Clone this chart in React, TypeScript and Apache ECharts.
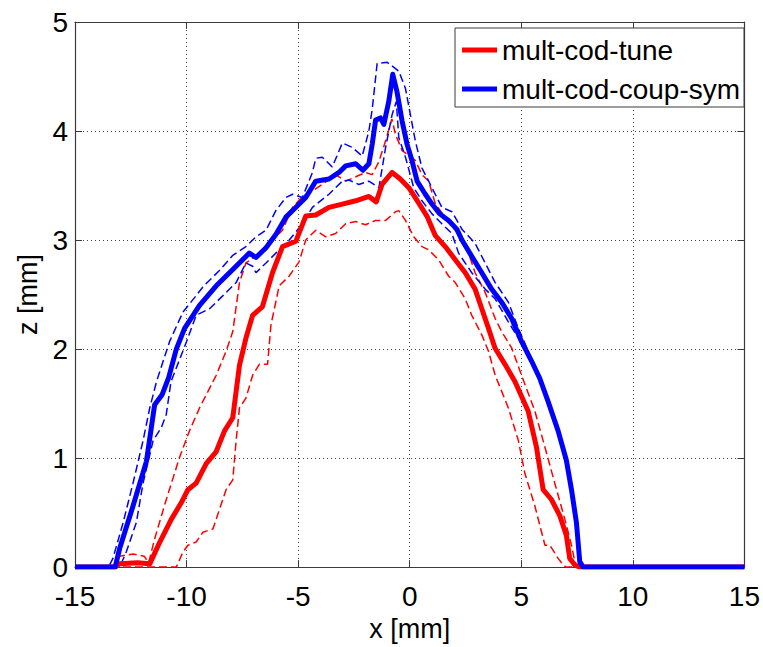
import React, { useEffect, useRef } from "react";
import * as echarts from "echarts";

const xMin = -15;
const xMax = 15;
const xStep = 5;
const zMin = 0;
const zMax = 5;
const zStep = 1;

const legendNames = ["mult-cod-tune", "mult-cod-coup-sym"];

// mult-cod-tune: mean (solid) and upper/lower envelopes (dashed)
const tuneMean: number[][] = [
  [-15, 0], [-13.2, 0], [-13.0, 0.03], [-12.2, 0.04], [-11.65, 0.03], [-11.2, 0.23], [-10.68, 0.44],
  [-10.24, 0.59], [-9.94, 0.71], [-9.57, 0.77], [-9.12, 0.95], [-8.67, 1.06], [-8.3, 1.25], [-7.93, 1.37],
  [-7.63, 1.85], [-7.34, 2.1], [-7.04, 2.31], [-6.6, 2.39], [-6.15, 2.7], [-5.7, 2.94], [-5.1, 2.99],
  [-4.66, 3.22], [-4.21, 3.23], [-3.62, 3.3], [-3.02, 3.33], [-2.42, 3.36], [-1.83, 3.4], [-1.5, 3.35],
  [-1.24, 3.51], [-0.79, 3.62], [-0.42, 3.56], [-0.04, 3.48], [0.4, 3.34], [0.77, 3.22], [1.15, 3.04],
  [1.59, 2.94], [2.04, 2.82], [2.49, 2.7], [2.93, 2.55], [3.23, 2.37], [3.53, 2.19], [3.82, 2.01],
  [4.27, 1.86], [4.72, 1.7], [5.31, 1.43], [5.68, 1.1], [5.98, 0.71], [6.35, 0.62], [6.73, 0.47],
  [7.02, 0.29], [7.17, 0.08], [7.4, 0.02], [7.6, 0], [15, 0],
];
const tuneUpper: number[][] = [
  [-15, 0], [-13.3, 0], [-13.0, 0.1], [-12.4, 0.12], [-11.9, 0.1], [-11.7, 0.04], [-11.43, 0.26],
  [-10.91, 0.62], [-10.31, 1.01], [-9.87, 1.25], [-9.42, 1.46], [-8.97, 1.64], [-8.67, 1.76], [-8.23, 1.98],
  [-7.93, 2.16], [-7.63, 2.61], [-7.34, 2.79], [-6.89, 2.85], [-6.44, 2.91], [-6.15, 3.0], [-5.7, 3.09],
  [-5.25, 3.3], [-4.8, 3.4], [-4.36, 3.45], [-3.92, 3.51], [-3.32, 3.6], [-2.87, 3.54], [-2.42, 3.58],
  [-1.98, 3.62], [-1.68, 3.6], [-1.38, 3.72], [-1.08, 3.91], [-0.8, 4.11], [-0.64, 3.97], [-0.34, 3.82],
  [-0.12, 3.79], [0.25, 3.73], [0.55, 3.6], [0.85, 3.54], [1.15, 3.33], [1.59, 3.21], [2.04, 3.09],
  [2.49, 2.97], [2.93, 2.7], [3.38, 2.52], [3.83, 2.28], [4.12, 2.16], [4.57, 2.01], [5.01, 1.76],
  [5.61, 1.43], [6.06, 1.1], [6.5, 0.77], [6.95, 0.44], [7.25, 0.2], [7.4, 0.05], [7.55, 0], [15, 0],
];
const tuneLower: number[][] = [
  [-15, 0], [-10.46, 0], [-10.16, 0.14], [-9.94, 0.2], [-9.57, 0.23], [-9.27, 0.32], [-8.82, 0.35],
  [-8.23, 0.71], [-7.93, 0.8], [-7.78, 1.16], [-7.63, 1.46], [-7.34, 1.55], [-7.04, 1.76], [-6.74, 1.86],
  [-6.37, 1.86], [-6.22, 2.22], [-5.85, 2.58], [-5.4, 2.67], [-4.96, 2.8], [-4.66, 3.0], [-4.21, 3.09],
  [-3.76, 3.03], [-3.32, 3.06], [-2.87, 3.15], [-2.42, 3.17], [-1.98, 3.14], [-1.53, 3.18], [-1.08, 3.18],
  [-0.64, 3.26], [-0.49, 3.27], [-0.19, 3.18], [0.18, 3.03], [0.55, 2.94], [0.85, 2.91], [1.29, 2.82],
  [1.74, 2.67], [2.04, 2.61], [2.49, 2.46], [2.78, 2.31], [3.23, 2.13], [3.53, 1.98], [3.83, 1.76],
  [4.42, 1.46], [4.87, 1.16], [5.16, 0.86], [5.61, 0.56], [5.91, 0.32], [6.06, 0.2], [6.28, 0.2],
  [6.65, 0.08], [6.88, 0.02], [7.0, 0], [15, 0],
];

// mult-cod-coup-sym: mean (solid) and upper/lower envelopes (dashed)
const coupMean: number[][] = [
  [-15, 0], [-13.2, 0], [-13.0, 0.17], [-12.4, 0.56], [-11.8, 0.97], [-11.43, 1.49], [-11.1, 1.58],
  [-10.8, 1.74], [-10.46, 2.0], [-10.09, 2.19], [-9.42, 2.4], [-8.67, 2.58], [-7.93, 2.73], [-7.19, 2.88],
  [-6.89, 2.84], [-6.44, 2.93], [-6.0, 3.05], [-5.55, 3.21], [-5.1, 3.3], [-4.66, 3.39], [-4.21, 3.54],
  [-3.62, 3.56], [-3.17, 3.62], [-2.87, 3.68], [-2.42, 3.7], [-2.1, 3.64], [-1.83, 3.7], [-1.68, 3.88],
  [-1.53, 4.1], [-1.31, 4.12], [-1.16, 4.06], [-0.94, 4.27], [-0.76, 4.52], [-0.57, 4.36], [-0.34, 4.09],
  [-0.12, 3.88], [0.1, 3.73], [0.33, 3.54], [0.7, 3.42], [1.0, 3.33], [1.35, 3.24], [1.74, 3.18],
  [2.11, 3.1], [2.34, 3.0], [2.78, 2.85], [3.23, 2.7], [3.67, 2.55], [4.12, 2.43], [4.57, 2.28],
  [5.01, 2.07], [5.46, 1.89], [5.83, 1.73], [6.2, 1.52], [6.65, 1.25], [7.02, 0.98], [7.25, 0.71],
  [7.47, 0.41], [7.62, 0.05], [7.77, 0], [15, 0],
];
const coupUpper: number[][] = [
  [-15, 0], [-13.5, 0], [-13.3, 0.08], [-12.84, 0.41], [-12.4, 0.77], [-11.95, 1.16], [-11.65, 1.46],
  [-11.35, 1.7], [-10.76, 2.07], [-10.16, 2.34], [-9.57, 2.49], [-9.27, 2.57], [-8.53, 2.72], [-7.93, 2.86],
  [-7.34, 2.94], [-6.89, 3.03], [-6.44, 3.09], [-6.0, 3.27], [-5.55, 3.39], [-5.25, 3.42], [-4.81, 3.39],
  [-4.36, 3.62], [-4.21, 3.75], [-3.92, 3.76], [-3.47, 3.67], [-3.02, 3.89], [-2.58, 3.85], [-2.13, 3.77],
  [-1.83, 4.0], [-1.68, 4.2], [-1.46, 4.62], [-1.01, 4.63], [-0.49, 4.55], [-0.19, 4.39], [0.03, 4.15],
  [0.25, 3.91], [0.55, 3.66], [0.85, 3.54], [1.44, 3.3], [1.89, 3.26], [2.34, 3.1], [2.93, 2.97],
  [3.38, 2.79], [3.83, 2.61], [4.42, 2.43], [4.87, 2.19], [5.31, 1.98], [5.8, 1.76], [6.2, 1.54],
  [6.65, 1.27], [7.0, 1.0], [7.25, 0.72], [7.45, 0.43], [7.6, 0.06], [7.75, 0], [15, 0],
];
const coupLower: number[][] = [
  [-15, 0], [-13.0, 0], [-12.7, 0.14], [-12.25, 0.41], [-11.95, 0.77], [-11.5, 1.16], [-11.13, 1.28],
  [-10.91, 1.4], [-10.7, 1.7], [-10.0, 2.07], [-9.57, 2.31], [-8.97, 2.37], [-8.37, 2.49], [-7.78, 2.61],
  [-7.34, 2.79], [-7.04, 2.76], [-6.89, 2.7], [-6.44, 2.79], [-6.0, 2.88], [-5.4, 3.0], [-4.8, 3.15],
  [-4.36, 3.3], [-3.62, 3.42], [-3.02, 3.54], [-2.72, 3.55], [-2.28, 3.51], [-1.83, 3.54], [-1.38, 3.48],
  [-1.08, 3.85], [-0.79, 4.15], [-0.6, 4.27], [-0.49, 3.94], [-0.19, 3.76], [0.18, 3.48], [0.55, 3.36],
  [1.0, 3.24], [1.44, 3.15], [1.89, 3.06], [2.19, 2.88], [2.78, 2.7], [3.38, 2.55], [3.83, 2.46],
  [4.42, 2.25], [4.87, 2.1], [5.46, 1.89], [5.9, 1.68], [6.3, 1.45], [6.7, 1.18], [7.05, 0.92],
  [7.3, 0.6], [7.5, 0.3], [7.65, 0.02], [7.8, 0], [15, 0],
];

const RED = "#ff0000";
const BLUE = "#0000ff";
const FONT = "'Liberation Sans', Arial, Helvetica, sans-serif";
const AXIS_COLOR = "#3a3a3a";

function lineSeries(name: string, data: number[][], color: string, solid: boolean) {
  return {
    name,
    type: "line",
    data,
    symbol: "none",
    showSymbol: false,
    silent: true,
    xAxisIndex: 0,
    yAxisIndex: 0,
    itemStyle: { color },
    lineStyle: solid
      ? { color, width: 5, type: "solid", join: "round" }
      : { color, width: 1.5, type: [8, 4] },
    emphasis: { disabled: true },
    z: solid ? 3 : 2,
  };
}

export default function App() {
  const ref = useRef<HTMLDivElement>(null);

  useEffect(() => {
    document.body.style.margin = "0";
    if (!ref.current) return;
    const chart = echarts.init(ref.current, undefined, { renderer: "svg" });
    const tickStyle = {
      show: true,
      inside: true,
      length: 7,
      lineStyle: { color: AXIS_COLOR, width: 1 },
    };
    const axisLine = { show: true, onZero: false, lineStyle: { color: AXIS_COLOR, width: 1.2 } };
    const gridLine = { show: true, lineStyle: { color: "#444", width: 1, type: [1, 3] } };

    chart.setOption({
      animation: false,
      backgroundColor: "#ffffff",
      textStyle: { fontFamily: FONT },
      grid: { left: 75, right: 14, top: 22, bottom: 70, containLabel: false },
      xAxis: [
        {
          type: "value",
          min: xMin,
          max: xMax,
          interval: xStep,
          position: "bottom",
          name: "x [mm]",
          nameLocation: "middle",
          nameGap: 43,
          nameTextStyle: { fontSize: 27, color: "#000", fontFamily: FONT },
          axisLine,
          axisTick: tickStyle,
          axisLabel: { fontSize: 28, lineHeight: 24, color: "#000", margin: 17, fontFamily: FONT },
          splitLine: gridLine,
        },
        {
          type: "value",
          min: xMin,
          max: xMax,
          interval: xStep,
          position: "top",
          axisLine,
          axisTick: tickStyle,
          axisLabel: { show: false },
          splitLine: { show: false },
        },
      ],
      yAxis: [
        {
          type: "value",
          min: zMin,
          max: zMax,
          interval: zStep,
          position: "left",
          name: "z [mm]",
          nameLocation: "middle",
          nameGap: 34,
          nameTextStyle: { fontSize: 27, color: "#000", fontFamily: FONT },
          axisLine,
          axisTick: tickStyle,
          axisLabel: { fontSize: 28, lineHeight: 24, color: "#000", margin: 7, fontFamily: FONT },
          splitLine: gridLine,
        },
        {
          type: "value",
          min: zMin,
          max: zMax,
          interval: zStep,
          position: "right",
          axisLine,
          axisTick: tickStyle,
          axisLabel: { show: false },
          splitLine: { show: false },
        },
      ],
      legend: {
        data: legendNames,
        orient: "vertical",
        left: 462,
        top: 36,
        padding: 0,
        itemGap: 11,
        itemWidth: 35,
        itemHeight: 5,
        icon: "rect",
        z: 10,
        textStyle: { fontSize: 28, color: "#000", fontFamily: FONT, lineHeight: 27 },
        selectedMode: false,
      },
      graphic: [
        {
          type: "rect",
          z: 8,
          shape: { x: 455, y: 28, width: 289, height: 79 },
          style: { fill: "#fff", stroke: AXIS_COLOR, lineWidth: 1 },
          silent: true,
        },
      ],
      series: [
        lineSeries("mult-cod-tune (upper)", tuneUpper, RED, false),
        lineSeries("mult-cod-tune (lower)", tuneLower, RED, false),
        lineSeries("mult-cod-coup-sym (upper)", coupUpper, BLUE, false),
        lineSeries("mult-cod-coup-sym (lower)", coupLower, BLUE, false),
        lineSeries(legendNames[0], tuneMean, RED, true),
        lineSeries(legendNames[1], coupMean, BLUE, true),
      ],
    });
    return () => chart.dispose();
  }, []);

  return <div ref={ref} style={{ width: 763, height: 647, background: "#fff" }} />;
}
